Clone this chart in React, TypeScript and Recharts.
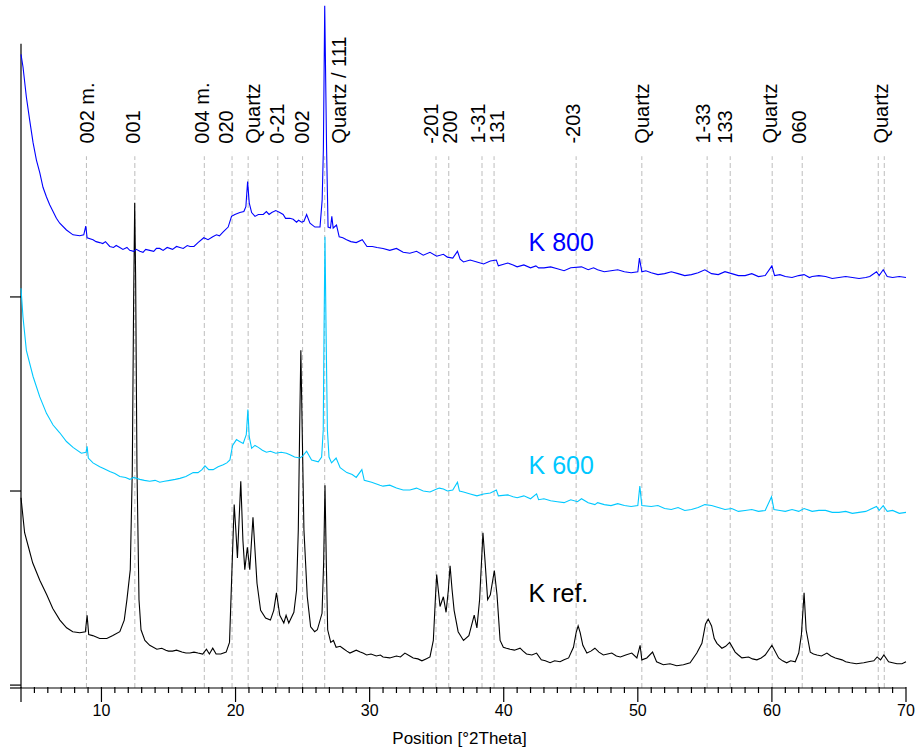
import React from 'react';
import { LineChart, Line, XAxis, YAxis, ReferenceLine, ReferenceDot } from 'recharts';

const FONT = "'Liberation Sans', Arial, Helvetica, sans-serif";

// [2Theta, counts]
const kRef: [number, number][] = [
  [4.0,193],[4.27,157],[4.6,140],[4.87,126],[5.4,108],[5.92,93],[6.37,79],[6.9,67],[7.4,59],[7.86,55],[8.38,54],[8.8,55],[8.93,72],[9.05,52],[9.35,51],[9.87,48],[10.4,48],[10.85,51],[11.37,55],[11.7,67],[11.9,88],[12.15,119],[12.3,222],[12.4,397],[12.48,497],[12.55,418],[12.65,222],[12.8,88],[12.95,57],[13.24,46],[13.6,41],[14.13,37],[14.5,38],[14.8,36],[15.0,35],[15.3,35],[15.6,36],[16.0,34],[16.3,33],[16.6,33],[16.9,34],[17.2,33],[17.55,32],[17.83,37],[18.05,32],[18.3,38],[18.55,32],[18.9,32],[19.3,34],[19.55,44],[19.75,126],[19.9,186],[20.02,160],[20.14,131],[20.39,210],[20.55,149],[20.69,119],[20.88,142],[21.06,119],[21.3,173],[21.6,105],[21.87,77],[22.24,69],[22.6,67],[22.85,77],[23.05,95],[23.3,72],[23.6,64],[23.77,72],[23.97,64],[24.35,75],[24.55,98],[24.68,160],[24.78,263],[24.87,345],[24.97,263],[25.1,160],[25.35,91],[25.6,60],[25.9,55],[26.1,57],[26.45,74],[26.57,126],[26.67,206],[26.77,126],[26.87,57],[27.1,44],[27.3,46],[27.5,39],[27.8,40],[28.0,38],[28.3,35],[28.53,33],[29.0,36],[29.3,34],[29.5,33],[29.78,31],[30.1,32],[30.5,30],[30.8,31],[31.0,29],[31.5,28],[32.0,30],[32.3,29],[32.63,33],[33.0,30],[33.25,28],[33.6,27],[33.9,25],[34.2,27],[34.5,29],[34.75,46],[34.9,88],[35.0,114],[35.12,98],[35.25,81],[35.5,91],[35.7,75],[35.87,98],[36.0,123],[36.15,98],[36.3,77],[36.6,55],[37.0,46],[37.4,51],[37.8,72],[38.0,59],[38.2,88],[38.35,129],[38.45,157],[38.6,129],[38.8,88],[39.0,93],[39.3,118],[39.5,93],[39.73,46],[39.97,39],[40.2,38],[40.47,37],[40.8,36],[41.22,38],[41.45,35],[41.7,32],[42.1,31],[42.45,33],[42.8,26],[43.1,25],[43.46,23],[43.8,25],[44.2,24],[44.5,26],[44.84,28],[45.2,39],[45.4,54],[45.55,61],[45.7,54],[45.9,41],[46.2,33],[46.5,35],[46.8,38],[47.1,34],[47.43,31],[47.75,32],[48.06,33],[48.4,30],[48.7,29],[49.1,31],[49.55,33],[49.93,28],[50.17,41],[50.3,26],[50.67,28],[51.1,34],[51.4,24],[51.9,21],[52.4,22],[52.9,20],[53.4,21],[53.9,23],[54.4,33],[54.78,43],[55.05,63],[55.25,68],[55.5,61],[55.7,48],[55.9,43],[56.27,38],[56.55,40],[56.85,44],[57.26,34],[57.5,31],[57.76,28],[58.26,29],[58.55,27],[58.88,26],[59.2,28],[59.5,31],[60.0,41],[60.5,28],[60.8,25],[61.1,23],[61.4,25],[61.74,24],[62.0,33],[62.2,52],[62.4,95],[62.55,57],[62.86,34],[63.1,32],[63.36,31],[63.7,30],[64.1,33],[64.4,30],[64.73,28],[65.23,26],[65.5,24],[65.85,23],[66.3,22],[66.85,23],[67.2,24],[67.6,25],[67.85,29],[68.1,26],[68.35,31],[68.7,24],[69.0,23],[69.33,22],[69.7,22],[70.0,24],
];

const k600: [number, number][] = [
  [4.0,409],[4.15,379],[4.4,345],[4.9,318],[5.4,297],[5.9,280],[6.39,268],[6.89,260],[7.39,251],[7.88,245],[8.5,239],[8.85,240],[8.93,246],[9.02,234],[9.37,229],[9.87,225],[10.2,223],[10.62,220],[11.0,218],[11.37,215],[11.8,214],[12.11,212],[12.4,214],[12.86,212],[13.2,211],[13.6,210],[14.0,211],[14.35,209],[14.7,210],[15.1,211],[15.5,212],[15.85,213],[16.3,215],[16.84,219],[17.2,219],[17.5,222],[17.72,226],[18.0,222],[18.33,222],[18.7,225],[19.08,227],[19.35,229],[19.58,232],[19.78,247],[20.07,253],[20.3,251],[20.57,249],[20.8,258],[20.92,284],[21.02,256],[21.2,244],[21.45,247],[21.7,245],[22.0,242],[22.3,240],[22.6,241],[23.0,239],[23.4,240],[23.8,239],[24.1,237],[24.4,235],[24.8,234],[25.0,236],[25.3,241],[25.67,232],[26.17,230],[26.42,235],[26.54,263],[26.6,366],[26.67,462],[26.75,366],[26.85,263],[26.97,235],[27.16,229],[27.5,234],[27.8,224],[28.3,219],[28.7,217],[29.0,214],[29.42,222],[29.6,211],[30.15,209],[30.77,206],[31.0,205],[31.5,206],[32.0,203],[32.5,201],[33.0,201],[33.5,203],[34.0,200],[34.5,199],[35.0,202],[35.2,203],[35.5,202],[35.8,200],[36.2,201],[36.55,209],[36.7,200],[37.0,199],[37.5,197],[38.0,195],[38.5,197],[39.0,198],[39.45,201],[39.6,195],[40.3,196],[40.7,194],[41.0,193],[41.5,195],[42.0,192],[42.45,197],[42.6,191],[43.0,192],[43.5,190],[44.0,189],[44.5,188],[45.0,191],[45.5,189],[45.8,192],[46.3,188],[46.8,186],[47.0,188],[47.5,186],[48.0,185],[48.5,187],[49.0,185],[49.5,184],[50.0,185],[50.15,205],[50.3,185],[51.0,184],[51.5,185],[52.0,182],[52.5,181],[53.0,183],[53.5,180],[54.0,181],[54.5,183],[55.0,186],[55.5,185],[56.0,183],[56.5,181],[57.0,182],[57.5,179],[58.0,180],[58.5,181],[59.0,179],[59.5,180],[59.97,194],[60.15,181],[60.6,180],[61.0,179],[61.5,181],[62.0,179],[62.4,182],[63.0,179],[63.5,180],[64.0,180],[64.5,178],[65.0,178],[65.5,179],[66.0,177],[66.5,178],[67.0,179],[67.8,184],[68.0,180],[68.3,185],[68.6,179],[69.0,180],[69.5,177],[70.0,178],
];

const k800: [number, number][] = [
  [4.0,650],[4.15,637],[4.4,606],[4.65,582],[4.9,559],[5.15,541],[5.4,528],[5.64,513],[5.9,503],[6.14,495],[6.39,488],[6.64,481],[6.89,476],[7.39,469],[7.88,464],[8.38,463],[8.68,464],[8.83,473],[8.93,461],[9.37,459],[9.6,457],[9.87,456],[10.1,455],[10.3,457],[10.62,452],[10.9,451],[11.1,453],[11.37,451],[11.6,449],[11.9,451],[12.11,448],[12.4,447],[12.6,449],[12.86,447],[13.1,446],[13.3,449],[13.6,448],[13.9,447],[14.1,450],[14.35,450],[14.6,448],[14.9,451],[15.3,449],[15.6,452],[15.85,451],[16.1,450],[16.4,453],[16.6,452],[16.9,452],[17.2,456],[17.63,461],[17.95,459],[18.3,462],[18.58,464],[18.8,463],[19.08,467],[19.45,472],[19.7,483],[19.95,485],[20.32,487],[20.62,488],[20.77,493],[20.9,519],[21.02,497],[21.2,487],[21.45,483],[21.7,485],[22.07,485],[22.3,488],[22.5,485],[22.7,487],[23.0,489],[23.3,487],[23.55,485],[23.73,481],[24.05,481],[24.3,480],[24.55,477],[24.7,479],[24.93,477],[25.1,478],[25.3,485],[25.55,476],[25.92,472],[26.3,472],[26.46,500],[26.55,552],[26.65,700],[26.79,552],[26.9,472],[27.08,471],[27.18,483],[27.28,471],[27.53,474],[27.73,462],[28.0,461],[28.28,459],[28.6,457],[29.0,456],[29.45,459],[29.8,452],[30.2,452],[30.55,451],[31.0,450],[31.5,448],[32.0,450],[32.5,446],[33.0,445],[33.5,447],[34.0,443],[34.5,446],[35.0,442],[35.5,444],[35.8,441],[36.2,440],[36.55,447],[36.75,439],[37.0,436],[37.5,438],[38.0,436],[38.5,434],[39.0,437],[39.45,438],[39.6,432],[40.3,435],[40.7,433],[41.0,431],[41.5,433],[42.0,430],[42.4,432],[42.6,430],[43.0,430],[43.5,431],[44.0,429],[44.5,427],[45.0,430],[45.8,431],[46.3,428],[46.7,430],[47.0,428],[47.5,426],[48.0,427],[48.5,428],[49.0,426],[49.5,425],[50.0,426],[50.12,440],[50.3,426],[50.6,427],[51.0,425],[51.5,423],[52.0,424],[52.5,426],[53.0,424],[53.5,422],[54.0,423],[54.5,425],[55.0,428],[55.5,424],[56.0,423],[56.5,426],[57.0,424],[57.5,422],[58.0,422],[58.5,424],[59.0,421],[59.5,422],[60.0,432],[60.2,422],[60.6,423],[61.0,421],[61.5,420],[62.0,422],[62.4,423],[62.8,420],[63.0,421],[63.5,422],[64.0,421],[64.5,419],[65.0,420],[65.5,421],[66.0,420],[66.5,419],[67.0,420],[67.3,421],[67.8,426],[68.0,422],[68.3,428],[68.6,421],[69.0,420],[69.5,421],[70.0,420],
];

const seriesNames = ['K ref.', 'K 600', 'K 800'];
const seriesColors = ['#000000', '#00c8ff', '#0000ff'];
const seriesData = [kRef, k600, k800];
// label anchor [2Theta, counts] for each series name
const seriesLabelAt: [number, number][] = [[41.85, 95], [41.85, 227], [41.85, 457]];

// reflection marker lines (2Theta)
const peakLines = [8.88, 12.49, 17.67, 19.74, 20.94, 23.15, 25.0, 26.65, 34.95, 35.9, 38.38, 39.28, 45.4, 50.3, 55.17, 56.89, 60.02, 62.26, 67.93, 68.38];
const peakLabels = ['002 m.', '001', '004 m.', '020', 'Quartz', '0-21', '002', 'Quartz / 111', '-201', '200', '1-31', '131', '-203', 'Quartz', '1-33', '133', 'Quartz', '060', 'Quartz'];
const peakLabelAt = [8.92, 12.37, 17.47, 19.26, 21.27, 23.06, 24.93, 27.75, 34.54, 36.0, 38.1, 39.48, 45.17, 50.3, 54.88, 56.52, 59.88, 62.04, 68.1];
const LABEL_BASE = 558;
const LINE_TOP = 545;

const xMajorTicks = [10, 20, 30, 40, 50, 60, 70];
const xTicks = Array.from({ length: 67 }, (_, i) => 4 + i);
const yTicks = [-3, 0, 200, 400];

const XTick = (props: any) => {
  const { x, y, payload } = props;
  const v = payload.value;
  const isLabel = xMajorTicks.includes(v);
  const long = isLabel || v === 4;
  return (
    <g>
      <line x1={x} x2={x} y1={y - 1} y2={y + (long ? 14 : 5)} stroke="#000" strokeWidth={1.2} />
      {isLabel && (
        <text x={x} y={y + 28} textAnchor="middle" fontSize={16} fontFamily={FONT} fill="#000">
          {v}
        </text>
      )}
    </g>
  );
};

const toRows = (pts: [number, number][]) =>
  pts
    .slice()
    .sort((a, b) => a[0] - b[0])
    .map(([x, y]) => ({ x, y }));

export default function App() {
  return (
    <div style={{ position: 'absolute', left: 0, top: 0, background: '#fff' }}>
      <LineChart width={918} height={754} margin={{ top: 0, right: 12, bottom: 0, left: 0 }}>
        <XAxis
          dataKey="x"
          type="number"
          domain={[4, 70]}
          ticks={xTicks}
          interval={0}
          tickSize={0}
          tickMargin={0}
          tickLine={false}
          tick={<XTick />}
          height={66}
          axisLine={{ stroke: '#000', strokeWidth: 1.2 }}
          label={{ value: 'Position [°2Theta]', position: 'insideBottom', offset: 10, dx: -4, fontSize: 17, fill: '#000', fontFamily: FONT }}
        />
        <YAxis
          type="number"
          domain={[-3, 706]}
          ticks={yTicks}
          interval={0}
          width={21}
          axisLine={false}
          tickSize={11}
          tickLine={{ stroke: '#000', strokeWidth: 1.2 }}
          tickFormatter={() => ''}
          allowDataOverflow
        />
        <ReferenceLine segment={[{ x: 4, y: -3 }, { x: 4, y: 661 }]} stroke="#000" strokeWidth={1.2} />
        {peakLines.map((p, i) => (
          <ReferenceLine
            key={'pl' + i}
            segment={[{ x: p, y: -3 }, { x: p, y: LINE_TOP }]}
            stroke="#bdbdbd"
            strokeWidth={1}
            strokeDasharray="5 3"
          />
        ))}
        {seriesData.map((d, i) => (
          <Line
            key={seriesNames[i]}
            data={toRows(d)}
            dataKey="y"
            type="linear"
            stroke={seriesColors[i]}
            strokeWidth={1.1}
            dot={false}
            activeDot={false}
            isAnimationActive={false}
          />
        ))}
        {peakLabels.map((t, i) => (
          <ReferenceDot
            key={'lab' + i}
            x={peakLabelAt[i]}
            y={LABEL_BASE}
            r={1}
            shape={(p: any) => (
              <text
                x={p.cx}
                y={p.cy}
                transform={`rotate(-90 ${p.cx} ${p.cy})`}
                dy="0.35em"
                fontSize={20}
                fontFamily={FONT}
                fill="#000"
              >
                {t}
              </text>
            )}
          />
        ))}
        {seriesNames.map((n, i) => (
          <ReferenceDot
            key={'sn' + i}
            x={seriesLabelAt[i][0]}
            y={seriesLabelAt[i][1]}
            r={1}
            shape={(p: any) => (
              <text x={p.cx} y={p.cy} dy="0.36em" fontSize={25} fontFamily={FONT} fill={seriesColors[i]}>
                {n}
              </text>
            )}
          />
        ))}
      </LineChart>
    </div>
  );
}
